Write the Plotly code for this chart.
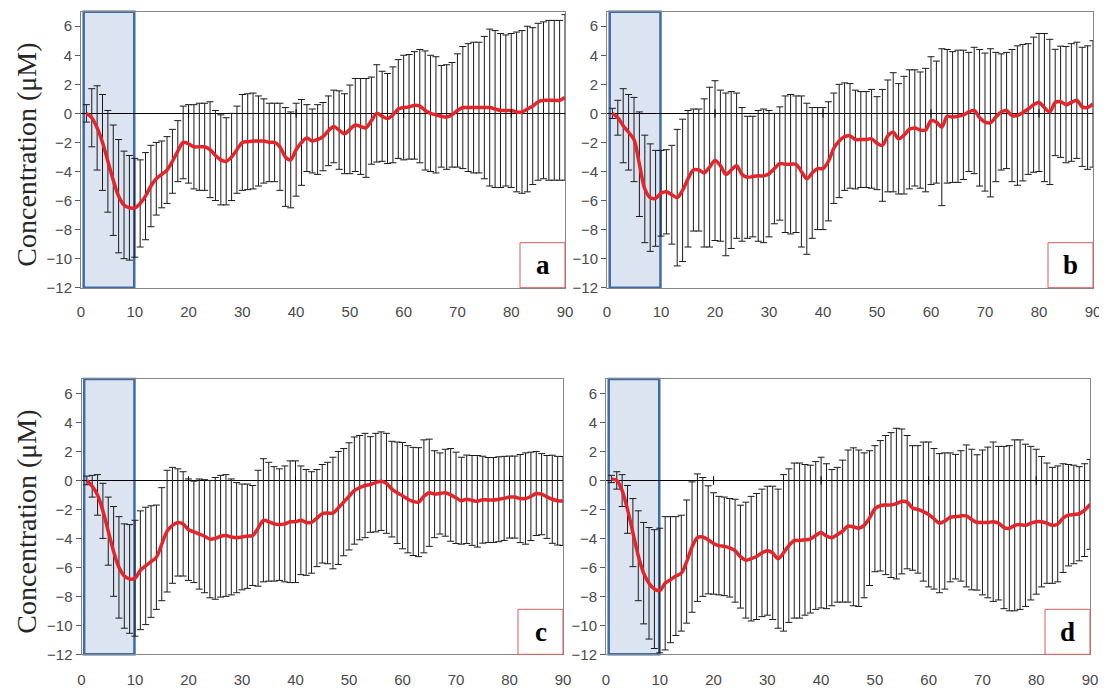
import plotly.graph_objects as go

# ---------------- data ----------------
minutes = list(range(1, 91))
x_ticks = list(range(0, 91, 10))
y_ticks = list(range(-12, 7, 2))
axis_marks = [20, 40, 60, 80]
window = (0.5, 9.9)
panel_labels = ["a", "b", "c", "d"]
y_title = "Concentration (μM)"

a_mean = [0.0, -0.3, -1.0, -2.0, -3.3, -4.6, -5.7, -6.3, -6.5, -6.5,
          -6.2, -5.7, -5.0, -4.5, -4.2, -3.9, -3.3, -2.6, -2.0, -2.1,
          -2.3, -2.3, -2.3, -2.5, -2.9, -3.2, -3.3, -3.0, -2.5, -2.0,
          -1.95, -1.9, -1.9, -1.9, -2.0, -2.0, -2.3, -3.0, -3.2, -2.5,
          -2.0, -1.7, -1.9, -1.8, -1.6, -1.2, -0.9, -1.15, -1.4, -1.1,
          -0.8, -0.9, -1.0, -0.5, 0.0, -0.2, -0.35, -0.1, 0.3, 0.4,
          0.45, 0.55, 0.5, 0.2, 0.0, -0.1, -0.2, -0.25, -0.1, 0.2,
          0.4, 0.4, 0.4, 0.4, 0.4, 0.4, 0.3, 0.2, 0.2, 0.2,
          0.1, 0.1, 0.3, 0.5, 0.8, 0.9, 0.9, 0.9, 0.9, 1.1]
a_err = [0.6, 2.0, 2.9, 3.3, 3.5, 3.8, 3.9, 3.7, 3.6, 3.4,
         3.0, 3.0, 2.8, 2.5, 2.3, 2.3, 2.2, 2.1, 2.5, 2.7,
         2.9, 3.0, 3.0, 3.3, 3.1, 3.1, 3.0, 3.0, 3.0, 3.3,
         3.3, 3.3, 3.1, 2.9, 2.7, 2.7, 3.0, 3.4, 3.3, 3.2,
         2.95, 2.3, 2.2, 2.4, 2.35, 2.4, 2.5, 2.7, 2.75, 3.05,
         3.2, 3.3, 3.4, 3.0, 3.35, 3.1, 3.1, 3.3, 3.4, 3.6,
         3.6, 3.7, 3.9, 4.1, 4.0, 4.0, 3.5, 3.6, 3.6, 3.9,
         4.2, 4.4, 4.5, 4.5, 4.9, 5.4, 5.4, 5.3, 5.2, 5.3,
         5.5, 5.6, 5.7, 5.4, 5.4, 5.4, 5.5, 5.5, 5.5, 5.7]

b_mean = [0.0, -0.3, -0.85, -1.3, -1.8, -3.5, -5.2, -5.8, -5.85, -5.5,
          -5.4, -5.6, -5.8, -5.3, -4.5, -3.9, -3.9, -4.1, -3.7, -3.25,
          -3.6, -4.2, -3.9, -3.6, -4.2, -4.4, -4.35, -4.3, -4.3, -4.15,
          -3.8, -3.45, -3.5, -3.5, -3.5, -4.0, -4.5, -4.1, -3.8, -3.8,
          -3.3, -2.4, -1.9, -1.6, -1.55, -1.8, -1.8, -1.8, -1.75, -2.05,
          -2.2, -1.55, -1.3, -1.75, -1.5, -1.1, -1.0, -1.15, -1.15, -0.5,
          -0.6, -0.95, -0.2, -0.25, -0.2, -0.1, 0.1, 0.2, -0.3, -0.6,
          -0.65, -0.25, 0.1, 0.2, -0.15, -0.15, 0.05, 0.3, 0.6, 0.75,
          0.4, 0.1, 0.75, 0.8, 0.6, 0.75, 0.9, 0.45, 0.4, 0.65]
b_err = [0.35, 1.2, 2.55, 2.6, 2.9, 3.6, 3.7, 3.7, 3.3, 2.95,
         2.9, 3.4, 4.7, 4.9, 4.7, 4.2, 4.2, 5.1, 5.5, 5.5,
         5.2, 5.6, 5.4, 5.0, 4.6, 4.2, 4.15, 4.5, 4.6, 4.35,
         3.8, 3.9, 4.7, 4.8, 4.7, 5.2, 5.2, 4.5, 4.2, 4.2,
         4.1, 3.8, 3.9, 3.7, 3.6, 3.4, 3.3, 3.3, 3.4, 3.2,
         3.85, 3.85, 4.1, 3.8, 4.05, 4.1, 4.0, 4.0, 4.25, 4.4,
         4.2, 5.4, 4.6, 4.5, 4.55, 4.45, 4.1, 4.35, 4.7, 4.75,
         5.1, 4.45, 4.0, 4.0, 4.55, 4.8, 4.7, 4.5, 4.65, 4.75,
         5.1, 5.0, 3.66, 3.83, 4.0, 4.05, 4.0, 4.1, 4.25, 4.35]

c_mean = [0.0, -0.4, -1.0, -2.1, -3.5, -4.9, -6.0, -6.6, -6.8, -6.75,
          -6.2, -5.9, -5.6, -5.3, -4.4, -3.5, -3.1, -2.9, -3.0, -3.4,
          -3.55, -3.7, -3.85, -4.05, -4.0, -3.85, -3.8, -3.9, -3.95, -3.9,
          -3.85, -3.8, -3.3, -2.75, -2.85, -3.0, -3.05, -3.0, -2.85, -2.85,
          -2.75, -2.9, -2.9, -2.6, -2.3, -2.25, -2.25, -1.9, -1.5, -1.1,
          -0.7, -0.5, -0.35, -0.28, -0.15, -0.05, -0.2, -0.6, -0.85, -1.05,
          -1.3, -1.45, -1.5, -1.1, -0.85, -0.95, -0.9, -0.85, -1.0, -1.2,
          -1.4, -1.3, -1.38, -1.44, -1.33, -1.35, -1.35, -1.3, -1.24, -1.15,
          -1.15, -1.25, -1.25, -1.1, -0.9, -0.95, -1.14, -1.3, -1.4, -1.42]
c_err = [0.3, 0.75, 1.4, 1.9, 2.35, 3.1, 3.5, 3.6, 3.75, 4.0,
         4.1, 4.05, 3.85, 3.6, 3.9, 4.2, 4.0, 3.7, 3.6, 3.5,
         3.5, 3.8, 3.9, 4.05, 4.2, 4.2, 4.2, 4.0, 3.8, 3.65,
         3.6, 3.45, 4.0, 4.25, 4.1, 3.95, 3.85, 4.0, 4.2, 4.2,
         3.75, 3.65, 3.5, 3.35, 3.4, 3.5, 3.85, 3.9, 3.7, 3.7,
         3.7, 3.6, 3.6, 3.3, 3.4, 3.4, 3.45, 3.3, 3.5, 3.67,
         3.7, 3.73, 3.76, 3.9, 3.7, 3.0, 2.8, 3.0, 3.2, 3.15,
         3.0, 3.05, 3.1, 3.16, 3.0, 2.93, 2.93, 2.93, 2.9, 2.83,
         2.83, 3.04, 3.15, 3.05, 2.9, 2.8, 2.86, 3.04, 3.06, 3.07]

d_mean = [0.1, 0.0, -0.7, -2.0, -3.6, -5.2, -6.4, -7.1, -7.5, -7.6,
          -7.1, -6.85, -6.6, -6.4, -5.6, -4.6, -3.95, -3.9, -4.1, -4.35,
          -4.5, -4.55, -4.65, -4.85, -5.26, -5.5, -5.4, -5.25, -5.0, -4.85,
          -5.0, -5.4, -5.0, -4.5, -4.15, -4.15, -4.1, -4.05, -3.8, -3.6,
          -3.85, -3.95, -3.75, -3.5, -3.15, -3.2, -3.3, -3.1, -2.6, -1.95,
          -1.75, -1.7, -1.7, -1.6, -1.45, -1.5, -1.9, -2.0, -2.15, -2.35,
          -2.65, -2.95, -2.8, -2.55, -2.5, -2.45, -2.45, -2.7, -2.9, -2.9,
          -2.9, -2.85, -2.95, -3.25, -3.3, -3.1, -3.05, -3.1, -2.95, -2.85,
          -2.85, -2.95, -3.1, -3.0, -2.6, -2.4, -2.35, -2.3, -2.05, -1.65]
d_err = [0.25, 0.6, 1.1, 1.65, 2.35, 3.1, 3.5, 3.85, 4.1, 4.3,
         4.6, 4.35, 4.1, 4.0, 4.25, 4.5, 4.4, 4.1, 3.73, 3.5,
         3.4, 3.4, 3.4, 3.55, 3.55, 4.0, 4.3, 4.35, 4.4, 4.45,
         4.6, 4.8, 5.4, 5.3, 5.35, 5.35, 5.2, 5.1, 5.1, 5.2,
         5.0, 4.7, 4.65, 4.9, 5.25, 5.45, 5.4, 5.0, 4.65, 4.35,
         4.5, 4.8, 5.0, 5.2, 5.0, 4.6, 4.3, 4.4, 4.8, 5.0,
         4.85, 4.8, 4.7, 4.45, 4.3, 4.5, 4.9, 4.85, 4.67, 5.0,
         5.2, 5.5, 5.3, 5.6, 5.7, 5.9, 5.85, 5.6, 5.3, 5.0,
         4.5, 4.15, 4.0, 4.0, 3.75, 3.5, 3.4, 3.25, 3.2, 3.1]

panel_data = [(a_mean, a_err), (b_mean, b_err), (c_mean, c_err), (d_mean, d_err)]

# ---------------- layout geometry ----------------
OFF = 8                      # page body margin
W, H = 1107 - OFF, 694 - OFF


def px(v):
    return (v - OFF) / W


def py(v):
    return 1 - (v - OFF) / H


# plot areas in page pixels: (left, right, top, bottom)
boxes = [(81, 565, 11.7, 287.7), (607, 1093, 11.7, 287.7),
         (81.5, 563, 379, 654.3), (606, 1090, 379, 654.3)]
label_gaps = [10, 10, 12, 12]

fig = go.Figure()
shapes = []
annotations = []
tick_font = dict(family="Liberation Sans, Arial, sans-serif", size=15, color="#4a4a4a")

for i, (label, (mean, err), bx, gap) in enumerate(
        zip(panel_labels, panel_data, boxes, label_gaps), start=1):
    xa = "x" if i == 1 else f"x{i}"
    ya = "y" if i == 1 else f"y{i}"
    l, r, t, b = bx
    # error bars
    fig.add_trace(go.Scatter(
        x=minutes, y=mean, mode="markers",
        marker=dict(color="rgba(0,0,0,0)", size=2),
        error_y=dict(type="data", array=err, visible=True, color="#1a1a1a",
                     thickness=1, width=3.5),
        xaxis=xa, yaxis=ya, showlegend=False, hoverinfo="skip"))
    # mean line
    fig.add_trace(go.Scatter(
        x=minutes, y=mean, mode="lines",
        line=dict(color="#e3262b", width=3.5, shape="spline", smoothing=0.9),
        xaxis=xa, yaxis=ya, showlegend=False))
    # small tick marks on the zero axis
    fig.add_trace(go.Scatter(
        x=axis_marks, y=[0] * len(axis_marks), mode="markers",
        marker=dict(symbol="line-ns", size=6, line=dict(color="black", width=1)),
        xaxis=xa, yaxis=ya, showlegend=False, hoverinfo="skip"))

    fig.layout[f"xaxis{'' if i == 1 else i}"] = dict(
        domain=[px(l), px(r)], range=[0, 90], anchor=ya, automargin=False,
        tickvals=x_ticks, ticks="outside", ticklen=gap, tickcolor="rgba(0,0,0,0)",
        showline=True, mirror=True, linecolor="#868686", linewidth=1,
        showgrid=False, zeroline=False, tickfont=tick_font)
    fig.layout[f"yaxis{'' if i == 1 else i}"] = dict(
        domain=[py(b), py(t)], range=[-12, 7], anchor=xa, automargin=False,
        tickvals=y_ticks, ticks="outside", ticklen=5, tickcolor="#595959",
        showline=True, mirror=True, linecolor="#868686", linewidth=1,
        showgrid=False, zeroline=True, zerolinecolor="black", zerolinewidth=1,
        tickfont=tick_font)

    # highlighted window
    shapes.append(dict(type="rect", xref=xa, yref=f"{ya} domain",
                       x0=window[0], x1=window[1], y0=0, y1=1,
                       fillcolor="#dce4f1", line=dict(color="#3f6ca4", width=2.5),
                       layer="below"))
    # label box (45 px square in the lower right corner)
    bw = 45 / (r - l)
    bh = 45 / (b - t)
    shapes.append(dict(type="rect", xref=f"{xa} domain", yref=f"{ya} domain",
                       x0=1 - bw, x1=1, y0=0, y1=bh,
                       fillcolor="white", line=dict(color="#e05a5a", width=1),
                       layer="above"))
    annotations.append(dict(xref=f"{xa} domain", yref=f"{ya} domain",
                            x=1 - bw / 2, y=bh / 2, xanchor="center", yanchor="middle",
                            text=f"<b>{label}</b>", showarrow=False,
                            font=dict(family="Liberation Serif, Times New Roman, serif",
                                      size=27, color="black")))

# y titles on left column
for (l, r, t, b) in (boxes[0], boxes[2]):
    annotations.append(dict(xref="paper", yref="paper", x=px(27), y=py((t + b) / 2 + 5),
                            xanchor="center", yanchor="middle",
                            text=y_title, textangle=-90, showarrow=False,
                            font=dict(family="Liberation Serif, Times New Roman, serif",
                                      size=28, color="#262626")))

fig.update_layout(width=W, height=H, margin=dict(l=0, r=0, t=0, b=0, autoexpand=False),
                  paper_bgcolor="white", plot_bgcolor="white",
                  shapes=shapes, annotations=annotations, showlegend=False)

fig.write_html("out.html")
